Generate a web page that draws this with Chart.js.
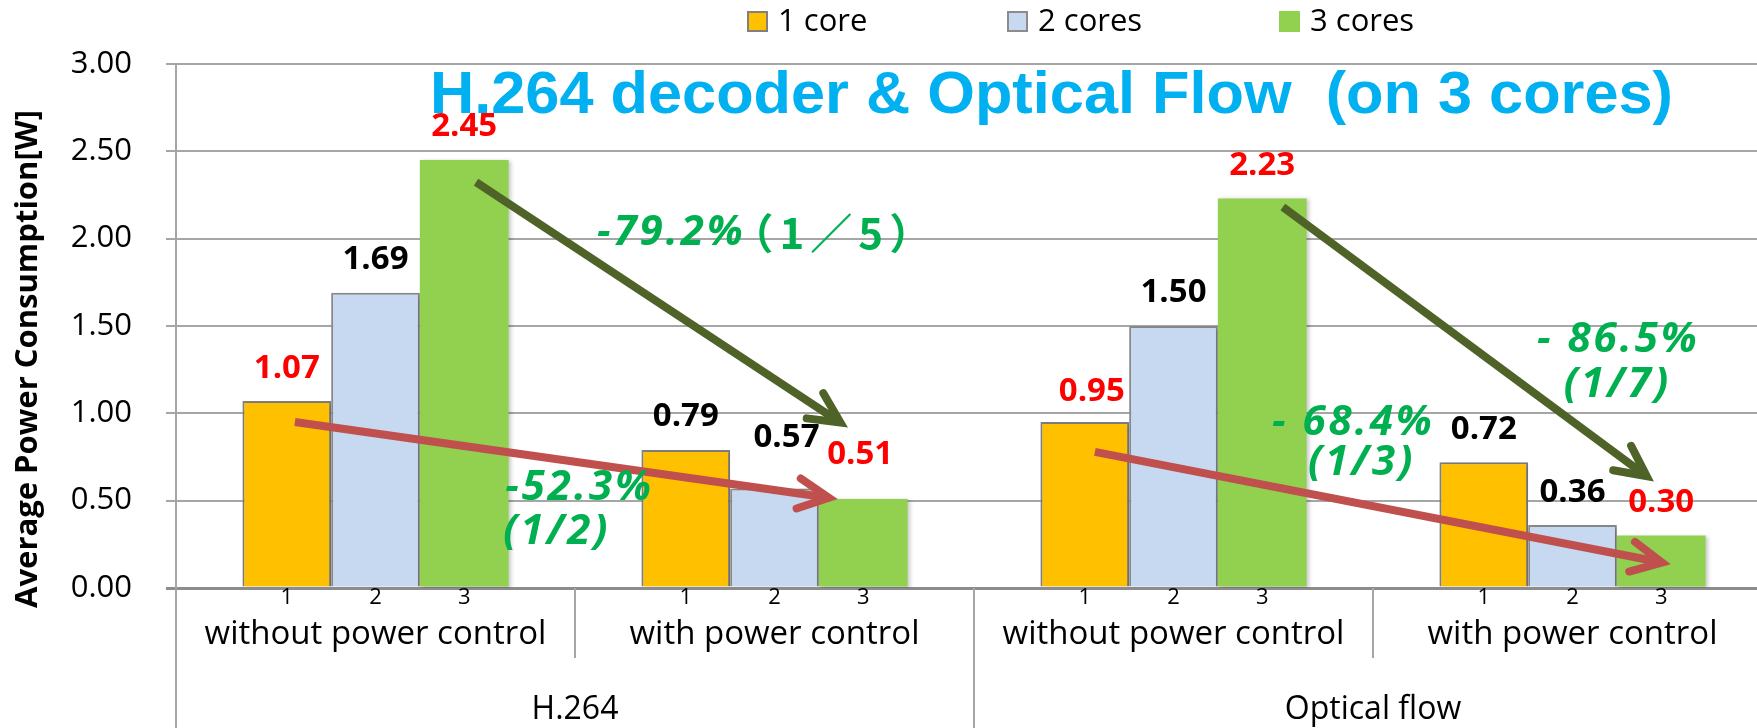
<!DOCTYPE html>
<html>
<head>
<meta charset="utf-8">
<script src="https://cdn.jsdelivr.net/npm/chart.js@4.4.1/dist/chart.umd.min.js"></script>
<style>
  html, body { margin: 0; padding: 0; background: #fff; overflow: hidden; }
  #wrap { width: 1790px; height: 728px; }
</style>
</head>
<body>
<div id="wrap"><canvas id="chart" width="1790" height="728"></canvas></div>
<script>
const categories = ["without power control", "with power control", "without power control", "with power control"];
const groups = ["H.264", "Optical flow"];
const seriesNames = ["1 core", "2 cores", "3 cores"];
const oneCore = [1.07, 0.79, 0.95, 0.72];
const twoCores = [1.69, 0.57, 1.50, 0.36];
const threeCores = [2.45, 0.51, 2.23, 0.30];
const coreTags = ["1", "2", "3"];
const yTicks = [0, 0.5, 1, 1.5, 2, 2.5, 3];

const heading = "H.264 decoder & Optical Flow  (on 3 cores)";
const yTitle = "Average Power Consumption[W]";

// reduction arrows, in axis units (category index, watts)
const arrows = [
  { from: [0.252, 2.324], to: [1.182, 0.922], color: "#4F6228" },
  { from: [-0.202, 0.950], to: [1.156, 0.510], color: "#C0504D" },
  { from: [2.274, 2.181], to: [3.202, 0.613], color: "#4F6228" },
  { from: [1.803, 0.779], to: [3.244, 0.137], color: "#C0504D" },
];

// reduction notes, in axis units
const notes = [
  { text: "-79.2%", x: 0.555, y: 2.032 },
  { text: "\uFF081\uFF0F5\uFF09", x: 1.150, y: 2.032, upright: true },
  { text: "-52.3%", x: 0.325, y: 0.573 },
  { text: "(1/2)", x: 0.320, y: 0.321 },
  { text: "- 68.4%", x: 2.247, y: 0.945 },
  { text: "(1/3)", x: 2.337, y: 0.716 },
  { text: "- 86.5%", x: 2.911, y: 1.420 },
  { text: "(1/7)", x: 2.978, y: 1.162 },
];

const FONT = "'Open Sans', sans-serif";

// a few value labels sit off-centre so they clear the arrows
const labelNudge = { "1:1": [12, -18], "2:1": [-3, -11], "0:2": [7, 3] };

const barShadow = {
  id: "barShadow",
  beforeDatasetsDraw(chart) {
    const ctx = chart.ctx;
    ctx.save();
    ctx.shadowColor = "rgba(0,0,0,0.22)";
    ctx.shadowBlur = 4;
    ctx.shadowOffsetX = 2;
    ctx.shadowOffsetY = 1;
  },
  afterDatasetsDraw(chart) {
    chart.ctx.restore();
  },
};

const axisExtras = {
  id: "axisExtras",
  afterDraw(chart) {
    const ctx = chart.ctx;
    const x = chart.scales.x;
    const area = chart.chartArea;
    ctx.save();
    ctx.strokeStyle = "#a6a6a6";
    ctx.lineWidth = 2;
    // separators under the axis
    for (let i = 0; i <= categories.length - 1; i++) {
      const px = Math.round(x.getPixelForValue(i - 0.5));
      const bottom = i % 2 === 0 ? chart.height : area.bottom + 70;
      ctx.beginPath();
      ctx.moveTo(px, area.bottom);
      ctx.lineTo(px, bottom);
      ctx.stroke();
    }
    // core count under each bar
    ctx.fillStyle = "#000";
    ctx.font = "22px " + FONT;
    ctx.textAlign = "center";
    ctx.textBaseline = "middle";
    chart.data.datasets.forEach((ds, d) => {
      chart.getDatasetMeta(d).data.forEach((bar) => {
        ctx.fillText(coreTags[d], bar.x, area.bottom + 10);
      });
    });
    // y axis title
    ctx.translate(28, 359);
    ctx.rotate(-Math.PI / 2);
    ctx.font = "bold 31px " + FONT;
    ctx.fillText(yTitle, 0, 0);
    ctx.restore();
  },
};

const valueLabels = {
  id: "valueLabels",
  afterDatasetsDraw(chart) {
    const ctx = chart.ctx;
    ctx.save();
    ctx.font = "bold 33px " + FONT;
    ctx.textAlign = "center";
    ctx.textBaseline = "middle";
    chart.data.datasets.forEach((ds, d) => {
      chart.getDatasetMeta(d).data.forEach((bar, i) => {
        const nudge = labelNudge[d + ":" + i] || [0, 0];
        const hot = d === 2 || (d === 0 && i % 2 === 0);
        ctx.fillStyle = hot ? "#FF0000" : "#000000";
        ctx.fillText(ds.data[i].toFixed(2), bar.x + nudge[0], bar.y - 33 + nudge[1]);
      });
    });
    ctx.restore();
  },
};

function drawArrow(ctx, x1, y1, x2, y2, color) {
  const ang = Math.atan2(y2 - y1, x2 - x1);
  const head = 34, spread = 0.46;
  // pull the vertex back so the mitred point lands on the tip
  const vx = x2 - 8 * Math.cos(ang), vy = y2 - 8 * Math.sin(ang);
  ctx.strokeStyle = color;
  ctx.lineWidth = 8;
  ctx.lineCap = "butt";
  ctx.beginPath();
  ctx.moveTo(x1, y1);
  ctx.lineTo(vx, vy);
  ctx.stroke();
  ctx.lineCap = "round";
  ctx.lineJoin = "miter";
  ctx.beginPath();
  ctx.moveTo(vx - head * Math.cos(ang - spread), vy - head * Math.sin(ang - spread));
  ctx.lineTo(vx, vy);
  ctx.lineTo(vx - head * Math.cos(ang + spread), vy - head * Math.sin(ang + spread));
  ctx.stroke();
}

const overlays = {
  id: "overlays",
  afterDatasetsDraw(chart) {
    const ctx = chart.ctx;
    const x = chart.scales.x, y = chart.scales.y;
    ctx.save();
    arrows.forEach((a) => {
      drawArrow(ctx,
        x.getPixelForValue(a.from[0]), y.getPixelForValue(a.from[1]),
        x.getPixelForValue(a.to[0]), y.getPixelForValue(a.to[1]), a.color);
    });
    ctx.fillStyle = "#00B050";
    ctx.textBaseline = "middle";
    notes.forEach((n) => {
      if (n.upright) {
        ctx.font = "bold 42px 'Noto Sans CJK JP'";
        ctx.textAlign = "center";
        ctx.letterSpacing = "6px";
      } else {
        ctx.font = "italic bold 42px " + FONT;
        ctx.textAlign = "left";
        ctx.letterSpacing = "3px";
      }
      ctx.fillText(n.text, x.getPixelForValue(n.x), y.getPixelForValue(n.y));
    });
    ctx.restore();
  },
};

const topLegend = {
  id: "topLegend",
  afterDraw(chart) {
    const ctx = chart.ctx;
    const boxX = [747, 1007, 1279];
    ctx.save();
    ctx.font = "31px " + FONT;
    ctx.textBaseline = "middle";
    ctx.textAlign = "left";
    chart.data.datasets.forEach((ds, d) => {
      ctx.fillStyle = ds.backgroundColor;
      ctx.fillRect(boxX[d], 11, 21, 21);
      if (ds.borderWidth) {
        ctx.strokeStyle = ds.borderColor;
        ctx.lineWidth = 2;
        ctx.strokeRect(boxX[d] + 1, 12, 19, 19);
      }
      ctx.fillStyle = "#000";
      ctx.fillText(ds.label, boxX[d] + 31, 22);
    });
    // heading
    ctx.font = "bold 60px 'Liberation Sans', Arial, sans-serif";
    ctx.fillStyle = "#00B0F0";
    ctx.textBaseline = "alphabetic";
    const w = ctx.measureText(heading).width;
    ctx.translate(430, 113);
    ctx.scale(1243 / w, 1);
    ctx.fillText(heading, 0, 0);
    ctx.restore();
  },
};

const ctx = document.getElementById("chart").getContext("2d");

new Chart(ctx, {
  type: "bar",
  data: {
    labels: categories,
    datasets: [
      { label: seriesNames[0], data: oneCore, backgroundColor: "#FFC000", borderColor: "#808080", borderWidth: 2 },
      { label: seriesNames[1], data: twoCores, backgroundColor: "#C6D9F1", borderColor: "#8c8c8c", borderWidth: 2 },
      { label: seriesNames[2], data: threeCores, backgroundColor: "#92D050", borderWidth: 0 },
    ],
  },
  options: {
    responsive: false,
    animation: false,
    devicePixelRatio: 1,
    layout: { padding: { top: 64, right: 18, left: 0, bottom: 0 } },
    datasets: { bar: { barPercentage: 1, categoryPercentage: 0.667 } },
    scales: {
      x: {
        ticks: { color: "#000", font: { family: FONT, size: 33 }, padding: 27, maxRotation: 0, autoSkip: false },
        grid: { display: false, drawTicks: false },
        border: { display: true, color: "#8c8c8c", width: 3 },
        afterFit: (s) => { s.height = 70; },
      },
      x2: {
        type: "category",
        labels: groups,
        position: "bottom",
        weight: 1,
        ticks: { color: "#000", font: { family: FONT, size: 32 }, padding: 33, maxRotation: 0 },
        grid: { display: false, drawTicks: false },
        border: { display: false },
        afterFit: (s) => { s.height = 70; },
      },
      y: {
        min: 0,
        max: 3,
        afterBuildTicks: (s) => { s.ticks = yTicks.map((v) => ({ value: v })); },
        ticks: {
          color: "#000",
          font: { family: FONT, size: 31 },
          padding: 34,
          callback: (v) => Number(v).toFixed(2),
        },
        grid: {
          color: (c) => (c.tick && c.tick.value === 0 ? "#8c8c8c" : "#a6a6a6"),
          lineWidth: (c) => (c.tick && c.tick.value === 0 ? 3 : 2),
          tickLength: 10,
        },
        border: { display: true, color: "#a6a6a6", width: 2 },
        afterFit: (s) => { s.width = 176; },
      },
    },
    plugins: {
      legend: { display: false },
      tooltip: { enabled: false },
    },
  },
  plugins: [barShadow, valueLabels, overlays, axisExtras, topLegend],
});
</script>
</body>
</html>
